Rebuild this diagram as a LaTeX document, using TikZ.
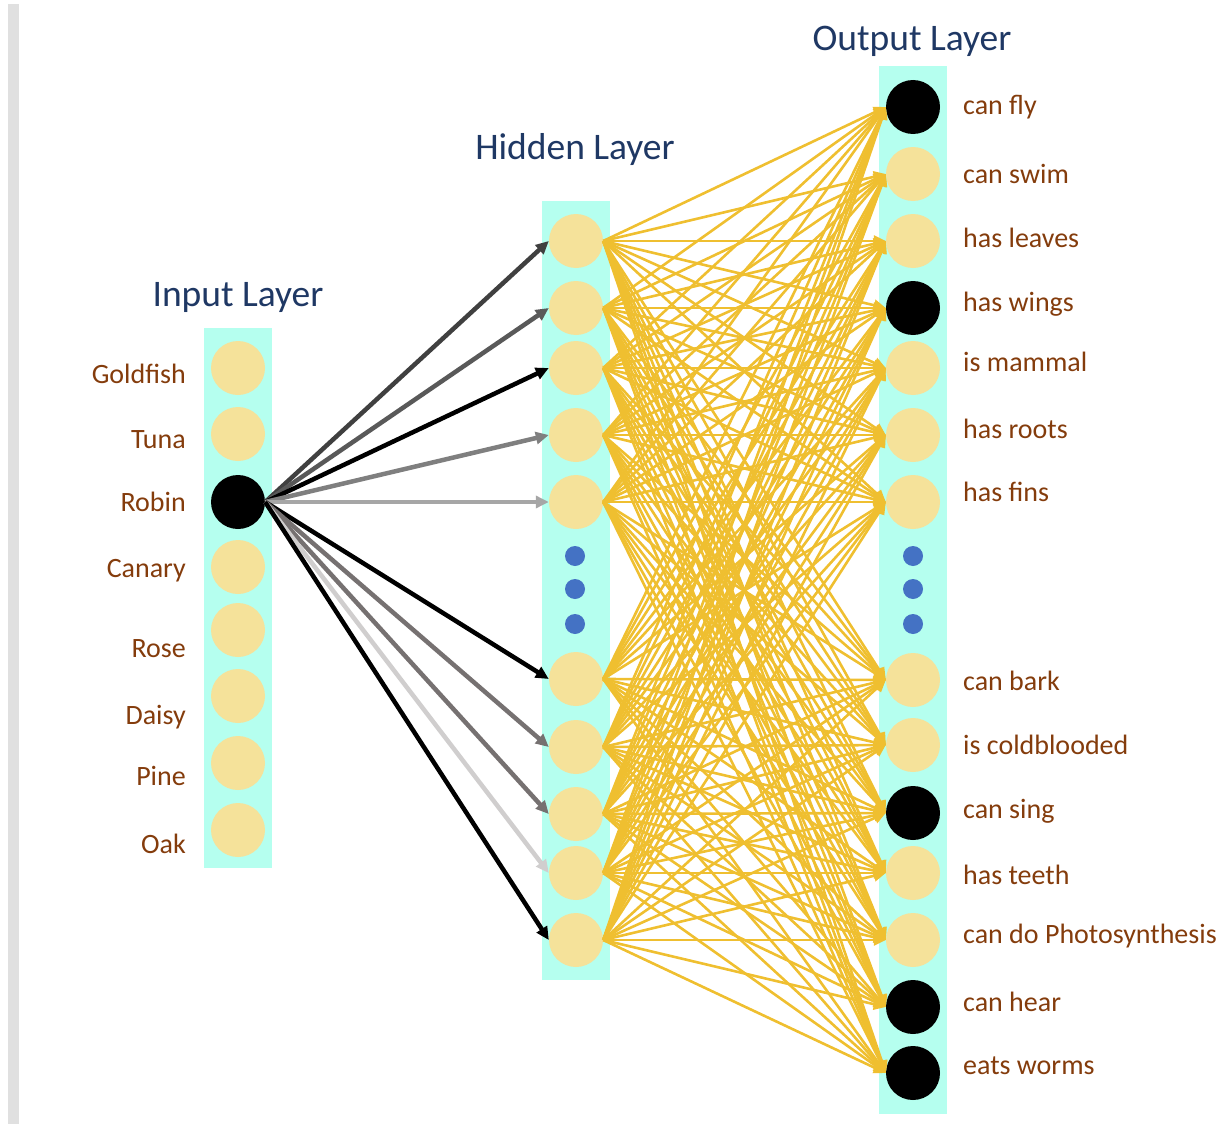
\documentclass[tikz,border=0pt]{standalone}
\usepackage{fontspec}
\setmainfont{Carlito}
\usetikzlibrary{arrows.meta}
\definecolor{cyanbg}{HTML}{B5FFEF}
\definecolor{nodefill}{HTML}{F5E29A}
\definecolor{gold}{HTML}{EFBF30}
\definecolor{titleblue}{HTML}{1F3864}
\definecolor{labelbrown}{HTML}{843C0C}
\definecolor{dotblue}{HTML}{4472C4}
\definecolor{barcol}{HTML}{E0E0E0}
\begin{document}
\begin{tikzpicture}[x=1pt,y=-1pt,
 neuron/.style={circle,fill=nodefill,minimum size=54pt,inner sep=0pt},
 active/.style={circle,fill=black,minimum size=54pt,inner sep=0pt},
 column/.style={fill=cyanbg},
 title/.style={text=titleblue,font=\fontsize{37.5}{40}\selectfont},
 lab/.style={text=labelbrown,font=\fontsize{28}{30}\selectfont,inner sep=0pt},
 yarrow/.style={draw=gold,line width=2.6pt,-{Triangle[length=12pt,width=11pt]}},
 garrow/.style={line width=4.5pt,-{Triangle[length=13pt,width=12pt]}},
 bdot/.style={circle,fill=dotblue,minimum size=20pt,inner sep=0pt}]
\useasboundingbox (0,0) rectangle (1227,1124);
\fill[barcol] (8,4) rectangle (19,1124);
% columns
\fill[column] (204,328) rectangle (272,868);
\fill[column] (542,201) rectangle (610,980);
\fill[column] (879,66) rectangle (947,1114);
% titles
\node[title] (tin) at (238,297) {Input Layer};
\node[title] (thid) at (575,150) {Hidden Layer};
\node[title] (tout) at (912,41) {Output Layer};
% input layer
\node[neuron] (i1) at (238,368) {};
\node[neuron] (i2) at (238,434) {};
\node[active] (i3) at (238,502) {};
\node[neuron] (i4) at (238,567) {};
\node[neuron] (i5) at (238,630) {};
\node[neuron] (i6) at (238,696) {};
\node[neuron] (i7) at (238,763) {};
\node[neuron] (i8) at (238,830) {};
\node[lab,anchor=east] (li1) at (186,374) {Goldfish};
\node[lab,anchor=east] (li2) at (186,440) {Tuna};
\node[lab,anchor=east] (li3) at (186,502) {Robin};
\node[lab,anchor=east] (li4) at (186,571) {Canary};
\node[lab,anchor=east] (li5) at (186,649) {Rose};
\node[lab,anchor=east] (li6) at (186,717) {Daisy};
\node[lab,anchor=east] (li7) at (186,776) {Pine};
\node[lab,anchor=east] (li8) at (186,844) {Oak};
% hidden layer
\foreach \y [count=\k] in {241,308,368,435,502,679,747,814,873,940}
  \node[neuron] (h\k) at (576,\y) {};
\node[bdot] (hd1) at (575,556) {};
\node[bdot] (hd2) at (575,589) {};
\node[bdot] (hd3) at (575,624) {};
% output layer
\node[active] (o1) at (913,107) {};
\node[neuron] (o2) at (913,174) {};
\node[neuron] (o3) at (913,241) {};
\node[active] (o4) at (913,308) {};
\node[neuron] (o5) at (913,368) {};
\node[neuron] (o6) at (913,435) {};
\node[neuron] (o7) at (913,502) {};
\node[neuron] (o8) at (913,680) {};
\node[neuron] (o9) at (913,745) {};
\node[active] (o10) at (913,813) {};
\node[neuron] (o11) at (913,873) {};
\node[neuron] (o12) at (913,940) {};
\node[active] (o13) at (913,1007) {};
\node[active] (o14) at (913,1073) {};
\node[bdot] (od1) at (913,556) {};
\node[bdot] (od2) at (913,589) {};
\node[bdot] (od3) at (913,624) {};
\node[lab,anchor=west] (lo1) at (963,107) {can fly};
\node[lab,anchor=west] (lo2) at (963,174) {can swim};
\node[lab,anchor=west] (lo3) at (963,238) {has leaves};
\node[lab,anchor=west] (lo4) at (963,304) {has wings};
\node[lab,anchor=west] (lo5) at (963,362) {is mammal};
\node[lab,anchor=west] (lo6) at (963,429) {has roots};
\node[lab,anchor=west] (lo7) at (963,492) {has fins};
\node[lab,anchor=west] (lo8) at (963,681) {can bark};
\node[lab,anchor=west] (lo9) at (963,745) {is coldblooded};
\node[lab,anchor=west] (lo10) at (963,811) {can sing};
\node[lab,anchor=west] (lo11) at (963,875) {has teeth};
\node[lab,anchor=west] (lo12) at (963,936) {can do Photosynthesis};
\node[lab,anchor=west] (lo13) at (963,1002) {can hear};
\node[lab,anchor=west] (lo14) at (963,1066) {eats worms};
% hidden -> output
\foreach \a in {1,...,10}
  \foreach \b in {1,...,14}
    \draw[yarrow] (h\a.east) -- (o\b.west);
% input -> hidden
\foreach \c [count=\k] in {404040,595959,000000,7F7F7F,A6A6A6,000000,767171,767171,D0CECE,000000}{
  \definecolor{gc}{HTML}{\c}
  \draw[garrow,draw=gc,fill=gc] (i3.east) -- (h\k.west);
}
\end{tikzpicture}
\end{document}
